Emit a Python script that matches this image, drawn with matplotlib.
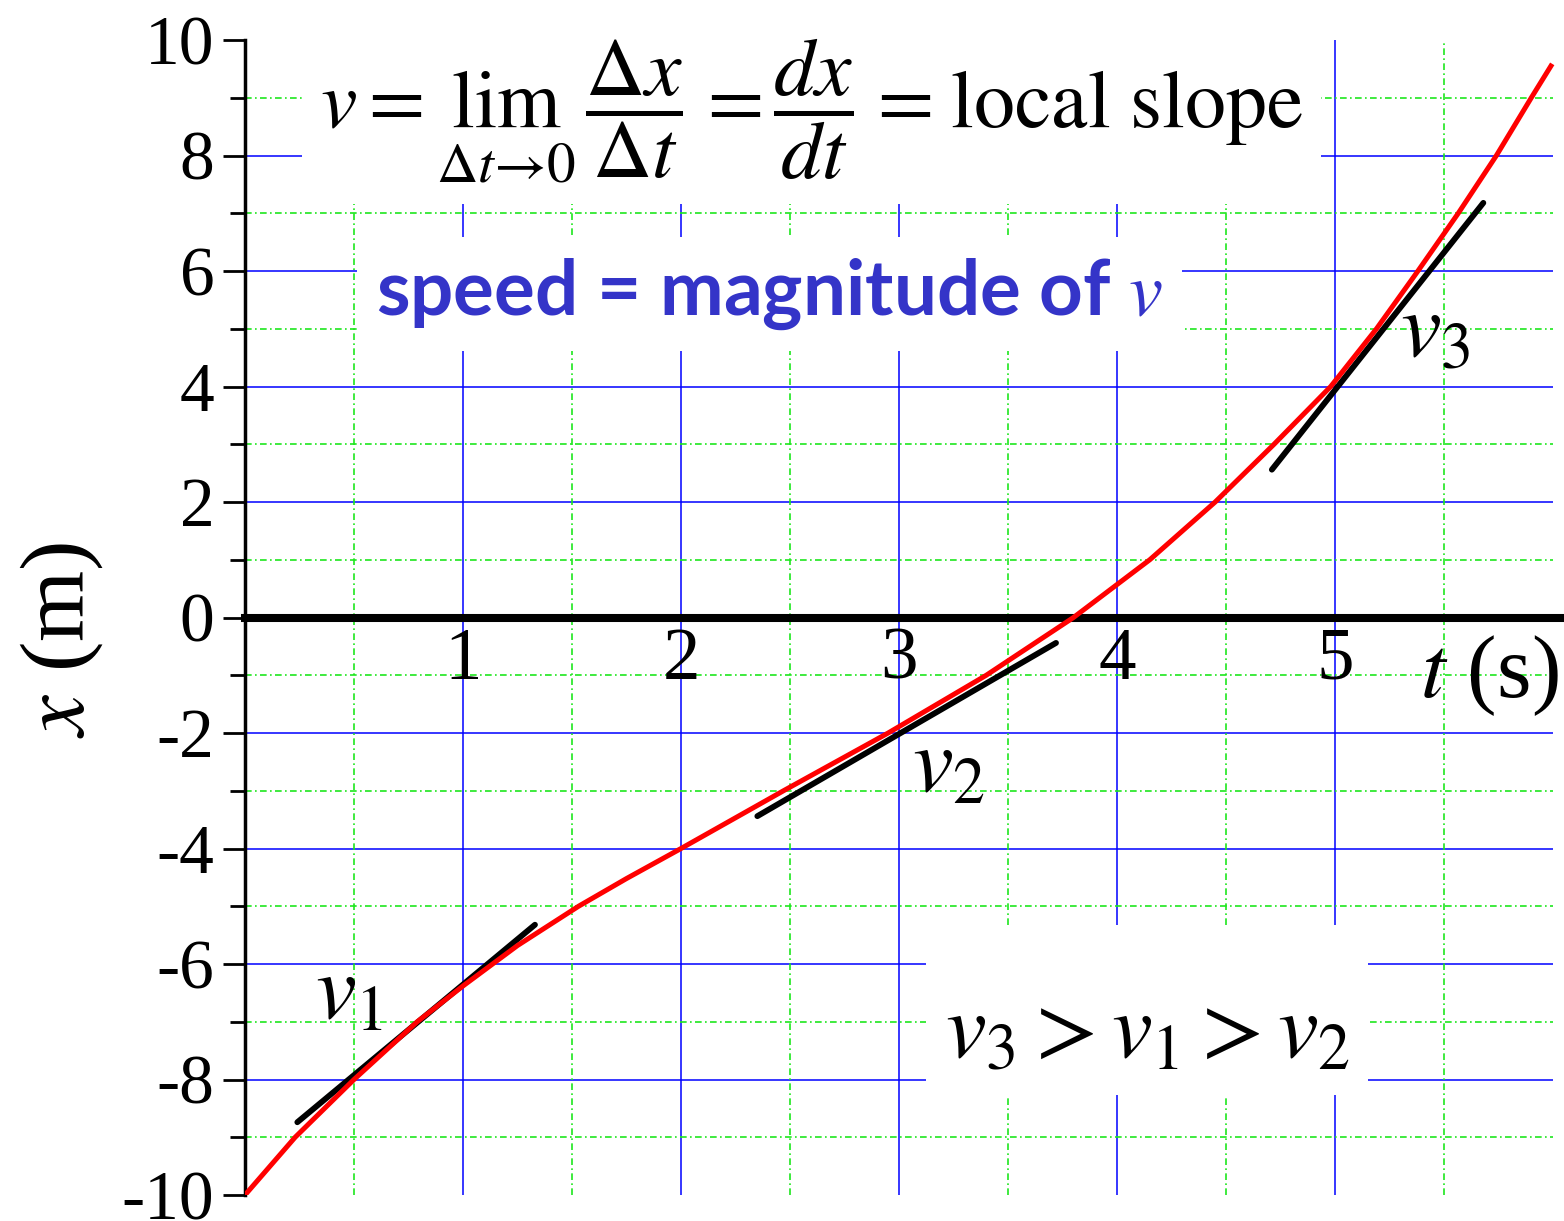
import numpy as np
import matplotlib
matplotlib.use('Agg')
import matplotlib.pyplot as plt

plt.rcParams['font.family'] = ['Liberation Serif', 'DejaVu Serif']
plt.rcParams['mathtext.fontset'] = 'stix'
plt.rcParams['axes.unicode_minus'] = False

# position curve x(t)
t_curve = [0, 0.23, 0.50, 0.79, 1.0, 1.25, 1.53, 1.75, 2.0, 2.47, 2.95,
           3.40, 3.80, 4.15, 4.45, 4.72, 4.98, 5.19, 5.38, 5.565, 5.74, 5.90, 5.99]
x_curve = [-10, -9, -8, -7, -6.38, -5.68, -5, -4.52, -4, -3, -2,
           -1, 0, 1, 2, 3, 4, 5, 6, 7, 8, 9, 9.55]

# tangent segments (start, end)
tan1_t, tan1_x = [0.24, 1.33], [-8.74, -5.32]
tan2_t, tan2_x = [2.35, 3.72], [-3.44, -0.44]
tan3_t, tan3_x = [4.71, 5.68], [2.56, 7.18]

xtick_vals = [1, 2, 3, 4, 5]
ytick_vals = [-10, -8, -6, -4, -2, 0, 2, 4, 6, 8, 10]

fig = plt.figure(figsize=(15.64, 12.21), dpi=100)
ax = fig.add_axes([245/1564, 1-1195/1221, 1319/1564, 1155/1221])
ax.set_xlim(0, 6.05)
ax.set_ylim(-10, 10)

# grid
blue_y = np.arange(-8, 9, 2)
green_y = np.arange(-9, 10, 2)
blue_t = np.arange(1, 6)
green_t = np.arange(0.5, 6, 1.0)
dashdot = (0, (4, 2, 1, 2))
ax.hlines(blue_y, 0, 6.0, color='#0000ff', lw=1.1, zorder=1)
ax.vlines(blue_t, -10, 10, color='#0000ff', lw=1.1, zorder=1)
ax.hlines(green_y, 0, 6.0, color='#1ee61e', lw=1.2, linestyles=dashdot, zorder=1)
ax.vlines(green_t, -10, 10, color='#1ee61e', lw=1.2, linestyles=dashdot, zorder=1)

# curve and tangents
for tt, xx in [(tan1_t, tan1_x), (tan2_t, tan2_x), (tan3_t, tan3_x)]:
    ax.plot(tt, xx, color='black', lw=4.2, solid_capstyle='round', zorder=4)
ax.plot(t_curve, x_curve, color='red', lw=3.6, zorder=5)

# axes
for s in ['top', 'right']:
    ax.spines[s].set_visible(False)
ax.spines['bottom'].set_position(('data', 0))
ax.spines['bottom'].set_linewidth(5.8)
ax.spines['left'].set_linewidth(2.5)
ax.set_xticks(xtick_vals)
ax.set_xticklabels([str(v) for v in xtick_vals])
ax.set_yticks(ytick_vals)
ax.set_yticklabels([str(v) for v in ytick_vals])
ax.set_yticks(np.arange(-9, 10, 2), minor=True)
ax.tick_params(axis='x', length=0, pad=7, labelsize=54)
ax.tick_params(axis='y', which='major', length=16, width=2, pad=6, labelsize=50)
ax.tick_params(axis='y', which='minor', length=11, width=2)

fig.text(62/1564, 1-640/1221, r'$x$ (m)', fontsize=66, rotation=90,
         ha='center', va='center')
ax.text(5.39, -1.0, r'$t$ (s)', fontsize=64, ha='left', va='center', zorder=3)

# annotations
ax.text(0.344, 8.77,
        r'$v = \lim_{\Delta t \rightarrow 0}\,\dfrac{\Delta x}{\Delta t}\;=\,\dfrac{dx}{dt}\;=\;\mathrm{local\ slope}$',
        fontsize=59, ha='left', va='center',
        bbox=dict(facecolor='white', edgecolor='none', pad=13), zorder=2)
ax.text(0.60, 5.6, r'speed = magnitude of $v$', fontsize=55, color='#3434c8',
        family='Lato', weight='bold', ha='left', va='center',
        bbox=dict(facecolor='white', edgecolor='none', pad=14), zorder=2)
ax.text(3.21, -7.95, '\n' + r'$v_3 > v_1 > v_2$', fontsize=66, ha='left',
        va='bottom', linespacing=0.5,
        bbox=dict(facecolor='white', edgecolor='none', pad=13), zorder=2)

ax.text(0.32, -6.93, r'$v_1$', fontsize=66, ha='left', va='baseline', zorder=6)
ax.text(3.06, -3.01, r'$v_2$', fontsize=66, ha='left', va='baseline', zorder=6)
ax.text(5.30, 4.52, r'$v_3$', fontsize=66, ha='left', va='baseline', zorder=6)

fig.savefig('out.png', dpi=100)
